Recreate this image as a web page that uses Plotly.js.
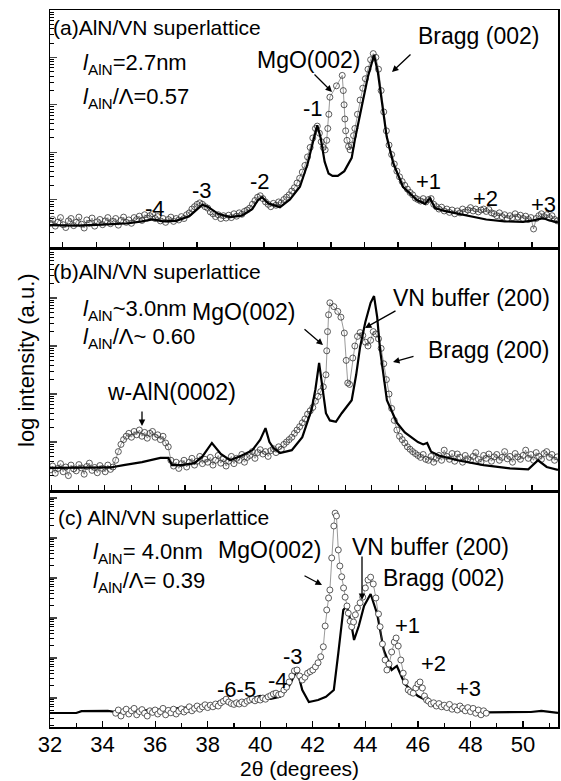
<!DOCTYPE html>
<html><head><meta charset="utf-8">
<script src="https://cdn.plot.ly/plotly-3.0.1.min.js"></script>
<style>html,body{margin:0;padding:0;background:#fff}</style>
</head><body><div id="chart" style="width:561px;height:781px"></div>
<script>
// ---------- Panel (a): l_AlN = 2.7 nm ----------
const aCalcX = [32.0,33.0,34.0,35.0,35.5,35.9,36.3,36.8,37.3,37.6,37.8,38.0,38.4,38.85,39.3,39.7,39.9,40.07,40.3,40.75,41.13,41.51,41.8,42.0,42.17,42.3,42.45,42.6,42.75,42.95,43.2,43.48,43.6,43.86,44.1,44.33,44.48,44.62,44.81,45.06,45.43,45.96,46.27,46.46,46.65,47.0,47.5,48.0,48.6,49.3,50.0,50.4,50.76,51.0,51.33];
const aCalcY = [0.46,0.45,0.47,0.50,0.54,0.58,0.54,0.55,0.65,0.80,0.89,0.85,0.70,0.63,0.66,0.80,0.98,1.05,0.92,0.84,1.0,1.27,1.75,2.2,2.57,2.3,1.8,1.55,1.5,1.5,1.6,1.88,2.26,2.96,3.6,4.05,3.67,3.1,2.33,1.77,1.27,0.99,0.91,1.03,0.82,0.76,0.70,0.64,0.58,0.54,0.53,0.56,0.61,0.56,0.52];
const aObsX = [
32.0,32.1,32.2,32.3,32.4,32.5,32.6,32.7,32.8,32.9,
33.0,33.1,33.2,33.3,33.4,33.5,33.6,33.7,33.8,33.9,
34.0,34.1,34.2,34.3,34.4,34.5,34.6,34.7,34.8,34.9,
35.0,35.1,35.2,35.3,35.4,35.5,35.6,35.7,35.8,35.9,
36.0,36.1,36.2,36.3,36.4,36.5,36.6,36.7,36.8,36.9,
37.0,37.1,37.2,37.3,37.4,37.5,37.6,37.7,37.8,37.9,
38.0,38.1,38.2,38.3,38.4,38.5,38.6,38.7,38.8,38.9,
39.0,39.1,39.2,39.3,39.4,39.5,39.6,39.7,39.8,39.9,
40.0,40.1,40.2,40.3,40.4,40.5,40.6,40.7,40.8,40.9,
41.0,41.1,41.2,41.3,41.4,41.5,41.6,41.7,41.8,41.9,
42.0,42.1,42.17,42.25,42.32,42.4,42.47,42.53,42.57,42.61,42.65,42.9,43.12,43.16,43.19,43.22,43.25,43.3,43.36,43.42,43.48,43.55,43.6,43.7,43.8,43.9,
44.0,44.1,44.2,44.3,44.4,44.5,44.6,44.7,44.8,44.9,
45.0,45.1,45.2,45.3,45.4,45.5,45.6,45.7,45.8,45.9,
46.0,46.1,46.2,46.3,46.4,46.5,46.6,46.7,46.8,46.9,
47.0,47.1,47.2,47.3,47.4,47.5,47.6,47.7,47.8,47.9,
48.0,48.1,48.2,48.3,48.4,48.5,48.6,48.7,48.8,48.9,
49.0,49.1,49.2,49.3,49.4,49.5,49.6,49.7,49.8,49.9,
50.0,50.1,50.2,50.3,50.4,50.5,50.6,50.7,50.8,50.9,
51.0,51.1,51.2,51.3];
const aObsY = [
0.50,0.58,0.44,0.52,0.62,0.47,0.41,0.55,0.60,0.45,
0.52,0.63,0.48,0.40,0.57,0.50,0.61,0.44,0.53,0.58,
0.47,0.55,0.62,0.49,0.54,0.60,0.46,0.56,0.63,0.52,
0.57,0.50,0.62,0.58,0.65,0.56,0.68,0.61,0.66,0.70,
0.60,0.64,0.55,0.60,0.52,0.58,0.63,0.54,0.60,0.57,
0.64,0.60,0.68,0.72,0.80,0.85,0.90,0.93,0.90,0.85,
0.82,0.74,0.70,0.64,0.68,0.60,0.66,0.61,0.67,0.62,
0.70,0.65,0.72,0.69,0.75,0.78,0.82,0.90,0.98,1.05,
1.08,1.02,0.95,0.90,0.85,0.92,0.88,0.95,0.93,1.00,
1.05,1.10,1.18,1.25,1.35,1.45,1.58,1.72,1.90,2.10,
2.30,2.50,2.55,2.40,2.22,2.10,2.05,2.25,2.50,2.80,3.16,3.40,3.62,3.30,3.00,2.70,2.45,2.25,2.12,2.05,2.15,2.35,2.50,2.80,3.10,3.35,
3.55,3.75,3.95,4.08,4.00,3.75,3.30,2.85,2.45,2.15,
1.95,1.75,1.60,1.48,1.38,1.30,1.22,1.15,1.10,1.03,
1.00,0.97,1.02,0.95,1.00,1.02,0.90,0.85,0.80,0.84,
0.76,0.80,0.73,0.78,0.70,0.76,0.72,0.80,0.74,0.78,
0.83,0.76,0.80,0.74,0.78,0.80,0.75,0.79,0.72,0.70,
0.66,0.72,0.64,0.68,0.60,0.66,0.62,0.70,0.63,0.67,
0.60,0.65,0.58,0.62,0.38,0.60,0.66,0.70,0.64,0.68,
0.62,0.66,0.58,0.55];

// ---------- Panel (b): l_AlN ~ 3.0 nm ----------
const bCalcX = [32.0,33.0,34.0,34.3,34.8,35.5,36.2,36.5,36.64,37.0,37.5,37.8,38.16,38.5,38.85,39.3,39.7,40.0,40.2,40.35,40.5,40.75,41.2,41.6,41.95,42.1,42.24,42.4,42.5,42.65,42.88,43.1,43.3,43.48,43.65,43.8,44.0,44.2,44.33,44.45,44.56,44.82,45.2,45.5,46.0,46.2,46.35,46.5,46.8,47.5,48.5,49.5,50.2,50.57,50.9,51.33];
const bCalcY = [0.46,0.46,0.46,0.47,0.52,0.58,0.67,0.67,0.52,0.52,0.56,0.70,0.98,0.75,0.62,0.72,0.83,1.05,1.29,1.0,0.88,0.77,0.83,1.1,1.67,2.1,2.65,2.02,1.6,1.45,1.42,1.6,1.73,1.87,2.4,2.98,3.5,3.9,4.04,3.6,2.92,1.87,1.40,1.20,1.0,0.95,0.98,0.80,0.72,0.62,0.52,0.45,0.43,0.62,0.48,0.42];
const bObsX = [
32.0,32.1,32.2,32.3,32.4,32.5,32.6,32.7,32.8,32.9,
33.0,33.1,33.2,33.3,33.4,33.5,33.6,33.7,33.8,33.9,
34.0,34.1,34.2,34.3,34.4,34.5,34.6,34.7,34.8,34.9,
35.0,35.1,35.2,35.3,35.4,35.5,35.6,35.7,35.8,35.9,
36.0,36.1,36.2,36.3,36.4,36.5,36.6,36.7,36.8,36.9,
37.0,37.1,37.2,37.3,37.4,37.5,37.6,37.7,37.8,37.9,
38.0,38.1,38.2,38.3,38.4,38.5,38.6,38.7,38.8,38.9,
39.0,39.1,39.2,39.3,39.4,39.5,39.6,39.7,39.8,39.9,
40.0,40.1,40.2,40.3,40.4,40.5,40.6,40.7,40.8,40.9,
41.0,41.1,41.2,41.3,41.4,41.5,41.6,41.7,41.8,41.9,
42.0,42.1,42.2,42.3,42.4,
42.5,42.53,42.56,42.6,42.65,42.8,42.95,43.07,43.2,43.27,43.33,43.4,43.52,43.6,43.7,43.8,43.9,
44.0,44.1,44.2,44.3,44.4,44.5,44.6,44.7,44.8,44.9,
45.0,45.1,45.2,45.3,45.4,45.5,45.6,45.7,45.8,45.9,
46.0,46.1,46.2,46.3,46.4,46.5,46.6,46.7,46.8,46.9,
47.0,47.1,47.2,47.3,47.4,47.5,47.6,47.7,47.8,47.9,
48.0,48.1,48.2,48.3,48.4,48.5,48.6,48.7,48.8,48.9,
49.0,49.1,49.2,49.3,49.4,49.5,49.6,49.7,49.8,49.9,
50.0,50.1,50.2,50.3,50.4,50.5,50.6,50.7,50.8,50.9,
51.0,51.1,51.2,51.3];
const bObsY = [
0.42,0.50,0.35,0.45,0.55,0.38,0.48,0.30,0.52,0.44,
0.40,0.53,0.46,0.33,0.49,0.56,0.41,0.47,0.36,0.51,
0.45,0.38,0.52,0.43,0.48,0.62,0.80,0.95,1.05,1.12,
1.18,1.10,1.22,1.15,1.25,1.12,1.20,1.08,1.18,1.22,
1.10,1.15,1.05,1.12,0.98,0.90,0.62,0.50,0.58,0.45,
0.55,0.62,0.48,0.58,0.66,0.52,0.60,0.70,0.55,0.64,
0.58,0.68,0.52,0.62,0.72,0.56,0.65,0.50,0.60,0.70,
0.55,0.66,0.62,0.74,0.58,0.68,0.72,0.80,0.66,0.78,
0.84,0.75,0.80,0.70,0.82,0.86,0.78,0.90,0.85,0.95,
1.00,1.05,1.10,1.18,1.25,1.32,1.40,1.48,1.58,1.65,
1.72,1.85,1.95,2.05,2.15,
2.4,2.9,3.3,3.65,3.9,3.82,3.72,3.6,3.27,2.7,2.23,2.2,2.75,3.0,3.2,3.28,3.22,
3.08,3.0,3.12,3.3,3.25,3.15,2.95,2.63,2.3,2.0,
1.7,1.45,1.25,1.12,1.05,0.98,0.90,0.85,0.80,0.76,
0.72,0.68,0.74,0.64,0.62,0.70,0.58,0.66,0.72,0.62,
0.83,0.70,0.64,0.76,0.60,0.75,0.68,0.58,0.72,0.65,
0.62,0.70,0.78,0.64,0.58,0.72,0.66,0.75,0.60,0.69,
0.74,0.62,0.68,0.80,0.65,0.70,0.58,0.76,0.69,0.64,
0.72,0.83,0.66,0.74,0.62,0.78,0.70,0.64,0.76,0.80,
0.68,0.74,0.62,0.69];

// ---------- Panel (c): l_AlN = 4.0 nm ----------
const cCalcX = [32.0,33.0,33.2,34.2,34.5,35.5,36.5,37.5,38.2,38.6,38.9,39.3,39.7,40.0,40.4,40.75,41.1,41.4,41.6,41.85,42.2,42.5,42.8,42.97,43.16,43.29,43.45,43.57,43.75,43.95,44.2,44.45,44.7,45.0,45.2,45.5,46.0,46.5,47.0,47.5,48.0,48.6,49.5,50.3,50.7,51.0,51.33];
const cCalcY = [0.625,0.625,0.67,0.68,0.65,0.68,0.72,0.78,0.85,0.95,0.88,0.88,1.0,1.05,0.98,1.03,1.3,1.7,1.2,0.9,0.95,1.03,1.2,2.12,3.2,3.3,2.9,2.45,2.8,3.3,3.6,3.1,2.2,1.7,1.8,1.35,1.05,0.88,0.76,0.70,0.66,0.64,0.65,0.65,0.68,0.66,0.63];
const cObsX = [
34.5,34.6,34.7,34.8,34.9,
35.0,35.1,35.2,35.3,35.4,35.5,35.6,35.7,35.8,35.9,
36.0,36.1,36.2,36.3,36.4,36.5,36.6,36.7,36.8,36.9,
37.0,37.1,37.2,37.3,37.4,37.5,37.6,37.7,37.8,37.9,
38.0,38.1,38.2,38.3,38.4,38.5,38.6,38.7,38.8,38.9,
39.0,39.1,39.2,39.3,39.4,39.5,39.6,39.7,39.8,39.9,
40.0,40.1,40.2,40.3,40.4,40.5,40.6,40.7,40.8,40.9,
41.0,41.1,41.2,41.3,41.4,41.5,41.6,41.7,41.8,41.9,
42.0,42.1,42.2,42.3,42.4,
42.47,42.53,42.6,42.65,42.72,42.8,42.85,42.9,42.97,43.03,43.1,43.17,43.23,43.3,43.35,43.42,43.48,43.55,43.62,43.7,43.8,43.9,44.0,44.1,44.2,44.3,44.4,44.5,44.56,44.65,44.75,44.82,44.9,45.0,45.1,45.17,45.25,45.35,45.44,45.52,45.63,45.72,45.82,45.92,46.0,46.08,46.17,46.25,46.33,
46.4,46.5,46.6,46.7,46.8,46.9,
47.0,47.1,47.2,47.3,47.4,47.5,47.6,47.7,47.8,47.9,
48.0,48.1,48.2,48.3,48.4,48.5,48.6];
const cObsY = [
0.62,0.70,0.55,0.66,0.72,
0.60,0.68,0.74,0.58,0.66,0.71,0.62,0.55,0.68,0.64,
0.70,0.60,0.66,0.74,0.58,0.69,0.63,0.72,0.60,0.67,
0.73,0.65,0.70,0.78,0.68,0.74,0.80,0.72,0.78,0.83,
0.76,0.82,0.78,0.85,0.80,0.88,0.92,0.97,0.90,0.86,
0.84,0.88,0.85,0.90,0.86,0.92,0.95,0.98,0.93,0.97,
0.95,1.00,0.97,1.03,1.06,1.10,1.12,1.08,1.10,1.20,
1.27,1.40,1.55,1.68,1.70,1.55,1.45,1.52,1.62,1.66,
1.70,1.78,1.88,2.03,2.28,
2.8,3.2,3.5,3.7,4.5,5.3,5.62,5.55,4.7,4.3,4.03,3.75,3.52,3.3,3.12,2.92,2.78,2.9,3.08,3.25,3.38,3.52,3.75,3.95,4.02,3.85,3.5,3.1,2.78,2.35,1.95,1.7,1.85,2.15,2.4,2.5,2.3,1.95,1.62,1.4,1.2,1.15,1.12,1.25,1.35,1.4,1.25,1.05,0.95,
0.92,0.85,0.88,0.80,0.86,0.78,
0.82,0.76,0.84,0.72,0.78,0.70,0.80,0.74,0.68,0.76,
0.66,0.74,0.62,0.70,0.58,0.68,0.62];

const xTickLabels = ['32','34','36','38','40','42','44','46','48','50'];
const xTickVals = [32,34,36,38,40,42,44,46,48,50];

// ---------- styling ----------
const FONT = 'Liberation Sans, Arial, Helvetica, sans-serif';
const L = 50, R = 558, T = 10, B = 727;
function P(px, py){ return {x:(px-L)/(R-L), y:(B-py)/(B-T)}; }
function txt(s, px, py, size, anchor){
  const p = P(px, py);
  return {xref:'paper', yref:'paper', x:p.x, y:p.y, text:s, showarrow:false,
    xanchor:anchor||'left', yanchor:'middle', borderpad:0,
    font:{family:FONT, size:size||21, color:'#000'}};
}
function arr(tx, ty, hx, hy){
  const p = P(hx, hy);
  return {xref:'paper', yref:'paper', x:p.x, y:p.y, ax:tx-hx, ay:ty-hy, text:'',
    showarrow:true, arrowhead:2, arrowsize:1, arrowwidth:1.3, arrowcolor:'#000', standoff:0};
}

const obsOpen = {mode:'lines+markers', line:{color:'#555', width:0.6},
  marker:{symbol:'circle-open', size:6, color:'#333', line:{width:0.8}}, showlegend:false, hoverinfo:'skip'};
const calcLine = {mode:'lines', line:{color:'#000', width:2.2}, showlegend:false, hoverinfo:'skip'};

const traces = [
  Object.assign({x:aObsX, y:aObsY, xaxis:'x3', yaxis:'y3'}, obsOpen),
  Object.assign({x:aCalcX, y:aCalcY, xaxis:'x3', yaxis:'y3'}, calcLine),
  Object.assign({x:bObsX, y:bObsY, xaxis:'x2', yaxis:'y2'}, obsOpen),
  Object.assign({x:bCalcX, y:bCalcY, xaxis:'x2', yaxis:'y2'}, calcLine),
  Object.assign({x:cCalcX, y:cCalcY, xaxis:'x', yaxis:'y'}, calcLine),
  {x:cObsX, y:cObsY, xaxis:'x', yaxis:'y', mode:'lines+markers', line:{color:'#555', width:0.6},
   marker:{symbol:'circle', size:6, color:'#fff', line:{color:'#333', width:0.8}}, showlegend:false, hoverinfo:'skip'}
];

const minorVals = [];
for (let k = -1; k <= 7; k++) for (let m = 2; m <= 9; m++) minorVals.push(k + Math.log10(m));

function yax(domain, range){
  return {domain:domain, range:range, showticklabels:false, ticks:'inside', ticklen:7, tickwidth:1.2,
    tickmode:'linear', tick0:0, dtick:1, showline:true, mirror:true, linecolor:'#000', linewidth:1.5,
    showgrid:false, zeroline:false,
    minor:{tickmode:'array', tickvals:minorVals, ticks:'inside', ticklen:4, tickwidth:1, tickcolor:'#000', showgrid:false}};
}
function xax(anchor, extra){
  return Object.assign({anchor:anchor, range:[32, 51.33], showline:true, mirror:true, linecolor:'#000', linewidth:1.5,
    ticks:'inside', ticklen:5, tickwidth:1.2, tickcolor:'#000', showgrid:false, zeroline:false}, extra);
}

const layout = {
  width:561, height:781, margin:{l:L, r:561-R, t:T, b:781-B},
  paper_bgcolor:'#fff', plot_bgcolor:'#fff', showlegend:false,
  font:{family:FONT, color:'#000'},
  xaxis: xax('y', {tickmode:'array', tickvals:xTickVals, ticktext:xTickLabels, ticklen:6,
    ticklabelstandoff:-3,
    tickfont:{family:FONT, size:22, color:'#000'},
    minor:{dtick:1, tick0:32, ticks:'inside', ticklen:4, tickcolor:'#000', showgrid:false}}),
  xaxis2: xax('y2', {showticklabels:false, tickmode:'linear', tick0:33.07, dtick:1.016}),
  xaxis3: xax('y3', {showticklabels:false, tickmode:'linear', tick0:32.49, dtick:1.275}),
  yaxis: yax([0, 0.3264], [0.275, 6.125]),
  yaxis2: yax([0.3305, 0.6653], [0, 5]),
  yaxis3: yax([0.6695, 1], [0, 5]),
  annotations: [
    // panel (a)
    txt('(a)AlN/VN superlattice', 52, 28, 21),
    txt('<i>l</i><sub>AlN</sub>=2.7nm', 82, 64, 22),
    txt('<i>l</i><sub>AlN</sub>/Λ=0.57', 82, 98, 22),
    txt('MgO(002)', 256, 60, 23),
    txt('Bragg (002)', 417, 36, 23),
    txt('-1', 313, 108, 22, 'center'),
    txt('+1', 428, 182, 22, 'center'),
    txt('+2', 485, 198, 22, 'center'),
    txt('+3', 543, 204, 22, 'center'),
    txt('-4', 155, 208, 22, 'center'),
    txt('-3', 202, 190, 22, 'center'),
    txt('-2', 260, 181, 22, 'center'),
    arr(313, 73, 332, 92),
    arr(412, 53, 392, 72),
    // panel (b)
    txt('(b)AlN/VN superlattice', 52, 272, 21),
    txt('<i>l</i><sub>AlN</sub>~3.0nm', 82, 310, 22),
    txt('<i>l</i><sub>AlN</sub>/Λ~ 0.60', 82, 338, 22),
    txt('MgO(002)', 191, 312, 23),
    txt('VN buffer (200)', 392, 298, 23),
    txt('Bragg (200)', 427, 350, 23),
    txt('w-AlN(0002)', 106, 392, 23),
    arr(142, 410, 142, 426),
    arr(303, 328, 323, 345),
    arr(397, 310, 365, 328),
    arr(415, 356, 393, 362),
    // panel (c)
    txt('(c) AlN/VN superlattice', 57, 517, 21),
    txt('<i>l</i><sub>AlN</sub>= 4.0nm', 92, 553, 22),
    txt('<i>l</i><sub>AlN</sub>/Λ= 0.39', 92, 582, 22),
    txt('MgO(002)', 217, 550, 23),
    txt('VN buffer (200)', 351, 547, 23),
    txt('Bragg (002)', 382, 578, 23),
    txt('+1', 407, 625, 22, 'center'),
    txt('+2', 433, 663, 22, 'center'),
    txt('+3', 468, 688, 22, 'center'),
    txt('-3', 293, 656, 22, 'center'),
    txt('-6-5', 236, 689, 22, 'center'),
    txt('-4', 278, 680, 22, 'center'),
    arr(303, 575, 322, 585),
    arr(362, 555, 362, 600),
    // axis titles
    Object.assign(txt('log intensity (a.u.)', 26, 360, 22, 'center'), {textangle:-90}),
    txt('2θ (degrees)', 299, 768, 21, 'center')
  ]
};

Plotly.newPlot('chart', traces, layout, {staticPlot:true, displayModeBar:false});
</script></body></html>
